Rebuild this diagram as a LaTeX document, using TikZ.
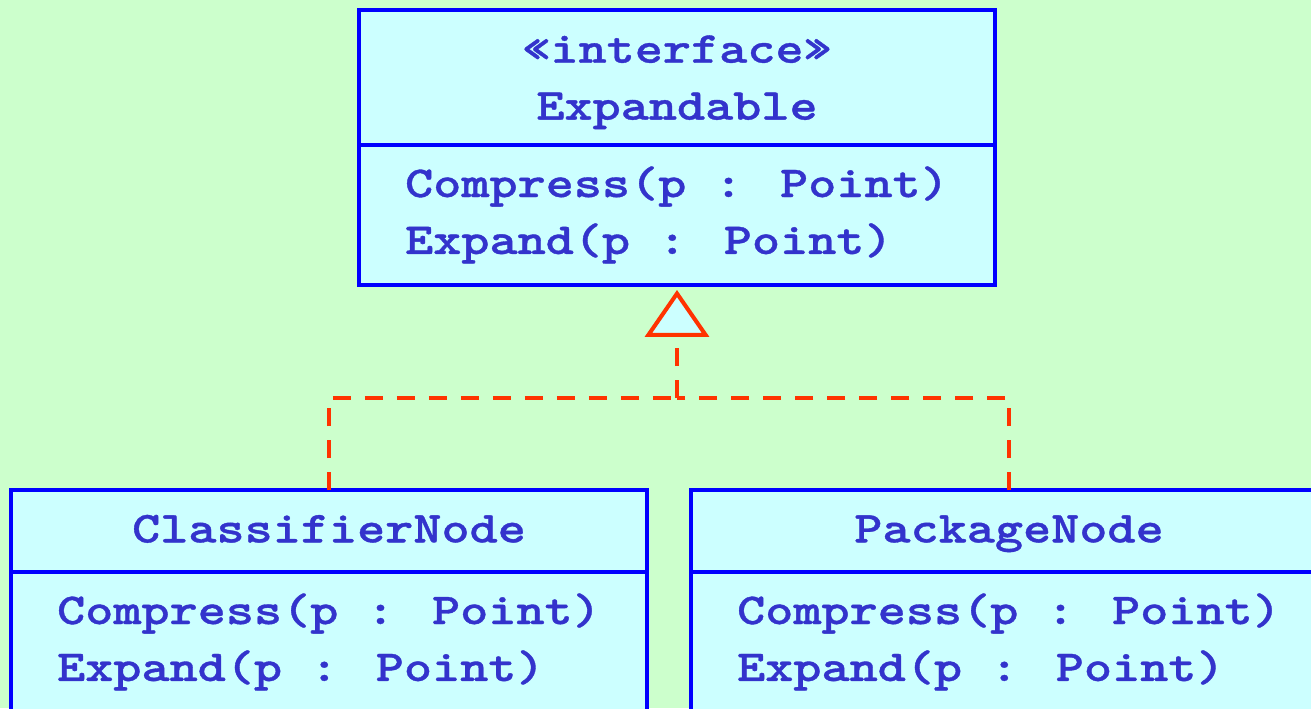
\documentclass[tikz,border=0pt]{standalone}
\usepackage{fontspec}
\usepackage{tikz}
\usetikzlibrary{arrows.meta, positioning}
\newfontfamily\umlfont[FakeStretch=1.21, FakeBold=0.8]{lmmonolt10-bold.otf}
\definecolor{umlbg}{HTML}{CCFFCC}
\definecolor{umlfill}{HTML}{CCFFFF}
\definecolor{umlblue}{HTML}{0000FF}
\definecolor{umltext}{HTML}{3333CC}
\definecolor{umlred}{HTML}{FF3300}
\tikzset{
	classhead/.style={draw=umlblue, fill=umlfill, line width=2.3pt, outer sep=0pt, minimum width=12.72cm, minimum height=#1, text=umltext, font=\umlfont\fontsize{25.2}{32.4}\selectfont, align=center},
	classbody/.style={classhead=2.8cm, align=left},
	realizearr/.style={draw=umlred, line width=2.3pt, dash pattern=on 0.36cm off 0.28cm},
}

\begin{document}
\begin{tikzpicture}[x=0.02cm, y=-0.02cm]
	\fill[umlbg] (0,0) rectangle (1311,708);
	\useasboundingbox (0,0) rectangle (1311,708);
	\clip (0,0) rectangle (1311,708);
	% interface
	\node[classhead=2.7cm] (iface) at (677,77.5) {\rule{0pt}{21pt}«interface»\\Expandable};
	\node[classbody, below=0pt of iface] (ifaceops) {Compress(p : Point)\\Expand(p : Point)};
	% implementing classes
	\node[classhead=1.64cm] (cnode) at (329,531) {ClassifierNode\strut};
	\node[classbody, below=0pt of cnode] (cnodeops) {Compress(p : Point)\\Expand(p : Point)};
	\node[classhead=1.64cm] (pnode) at (1009,531) {PackageNode\strut};
	\node[classbody, below=0pt of pnode] (pnodeops) {Compress(p : Point)\\Expand(p : Point)};
	% realization
	\coordinate (join) at (677,398);
	\draw[realizearr] (cnode.north) |- (join);
	\draw[realizearr] (pnode.north) |- (join);
	\draw[realizearr, -{Triangle[open, fill=umlfill, length=0.94cm, width=1.28cm]}, shorten >=0.1cm] (join) -- (ifaceops.south);
\end{tikzpicture}
\end{document}
